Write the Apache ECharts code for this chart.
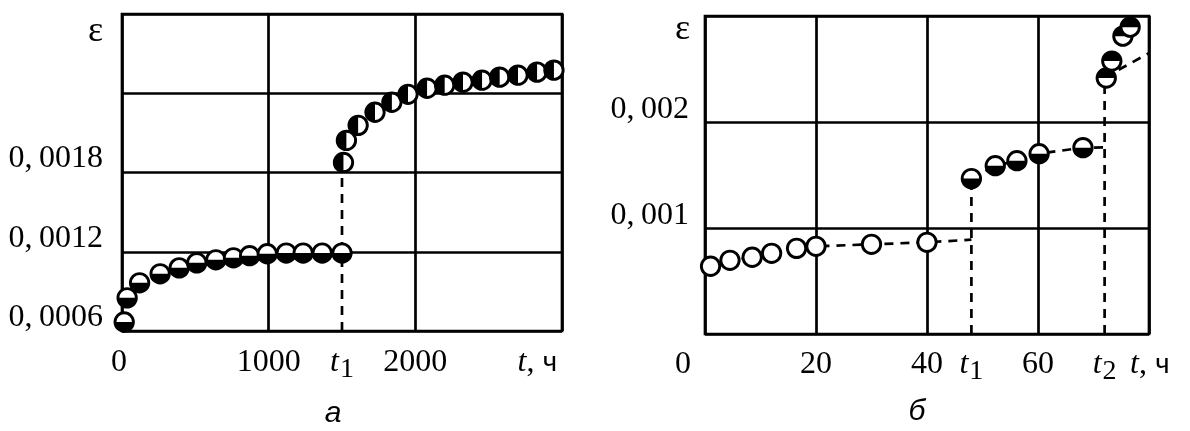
<!DOCTYPE html>
<html>
<head>
<meta charset="utf-8">
<script src="https://cdn.jsdelivr.net/npm/echarts@6/dist/echarts.min.js"></script>
<style>
  html, body { margin: 0; padding: 0; background: #fff; }
  #chart { width: 1190px; height: 431px; }
</style>
</head>
<body>
<div id="chart"></div>
<script>
// ---- Panel "а": long-term creep, t in hours ----
const leftT1 = 1500;
const leftLowT = [15, 35, 120, 260, 390, 510, 640, 760, 870, 990, 1120, 1235, 1365, 1500];
const leftLowE = [0.000668, 0.000851, 0.000965, 0.001033, 0.001078, 0.001116, 0.001139, 0.001154, 0.00117, 0.001185, 0.00119, 0.00119, 0.00119, 0.00119];
const leftHighT = [1510, 1530, 1610, 1725, 1840, 1950, 2080, 2200, 2325, 2455, 2575, 2700, 2830, 2945];
const leftHighE = [0.001876, 0.002043, 0.002157, 0.002256, 0.002332, 0.002392, 0.002438, 0.002461, 0.002484, 0.002499, 0.002522, 0.002537, 0.00256, 0.002575];
const leftXTicks = [0, 1000, leftT1, 2000];
const leftYTicks = [0.0006, 0.0012, 0.0018];
const leftYLabels = ['0,\u20090006', '0,\u20090012', '0,\u20090018'];

// ---- Panel "б": short-term creep with two load steps ----
const rightT1 = 48;
const rightT2 = 72;
const rightLowT = [1, 4.5, 8.5, 12, 16.5, 20, 30, 40];
const rightLowE = [0.000639, 0.000695, 0.000724, 0.000761, 0.000808, 0.000827, 0.000846, 0.000865];
const rightLowTail = 0.00089;
const rightMidT = [48, 52.3, 56.2, 60.2, 68.1];
const rightMidE = [0.001466, 0.001588, 0.001635, 0.001701, 0.001758];
const rightMidTail = 0.00176;
const rightHighT = [72.3, 73.3, 75.3, 76.6];
const rightHighE = [0.002415, 0.002575, 0.00281, 0.002895];
const rightHighTrend = [[72, 0.00242], [80, 0.00265]];
const rightXTicks = [0, 20, 40, rightT1, 60, rightT2];
const rightYTicks = [0.001, 0.002];
const rightYLabels = ['0,\u2009001', '0,\u2009002'];

const SERIF = "'Liberation Serif', 'Times New Roman', serif";
const SANS = "'Liberation Sans', Arial, sans-serif";
const FS = 32;
const LW = 2.7;

function pairs(xs, ys) { return xs.map((x, i) => [x, ys[i]]); }

// half-filled circle marker: white disc, black half, black ring
function halfCircle(startAngle, endAngle, filled) {
  return function (params, api) {
    const p = api.coord([api.value(0), api.value(1)]);
    const r = 9.2;
    const children = [
      { type: 'circle', shape: { cx: p[0], cy: p[1], r: r }, style: { fill: '#fff' } }
    ];
    if (filled) {
      children.push({ type: 'sector', shape: { cx: p[0], cy: p[1], r0: 0, r: r, startAngle: startAngle, endAngle: endAngle, clockwise: true }, style: { fill: '#000' } });
    }
    children.push({ type: 'circle', shape: { cx: p[0], cy: p[1], r: r }, style: { fill: 'none', stroke: '#000', lineWidth: 2.9 } });
    return { type: 'group', children: children };
  };
}

function markers(xi, data, start, end, filled) {
  return {
    type: 'custom', xAxisIndex: xi, yAxisIndex: xi, z: 5, clip: false,
    data: data, encode: { x: 0, y: 1 },
    renderItem: halfCircle(start, end, filled)
  };
}

function dashed(xi, data) {
  return {
    type: 'line', xAxisIndex: xi, yAxisIndex: xi, z: 3, data: data,
    symbol: 'none', silent: true, animation: false,
    lineStyle: { color: '#000', width: LW, type: [9, 7] }
  };
}

const tRich = {
  i: { fontFamily: SERIF, fontStyle: 'italic', fontSize: FS, color: '#000' },
  s: { fontFamily: SERIF, fontSize: 28, color: '#000', padding: [14, 0, 0, 1] },
  n: { fontFamily: SERIF, fontSize: FS, color: '#000' },
  c: { fontFamily: SANS, fontSize: 28, color: '#000' },
  o: { fontFamily: SERIF, fontSize: FS, color: '#000', padding: [0, 6, 0, 0] },
  o2: { fontFamily: SERIF, fontSize: FS, color: '#000', padding: [0, 44, 0, 0] }
};

function xLabel(t1, t2, zeroStyle) {
  return function (v) {
    if (v === t1) return '{i|t}{s|1}';
    if (t2 !== null && v === t2) return '{i|t}{s|2}';
    if (v === 0) return '{' + zeroStyle + '|0}';
    return '{n|' + v + '}';
  };
}

function yLabel(ticks, labels) {
  return function (v) {
    for (let i = 0; i < ticks.length; i++) {
      if (Math.abs(v - ticks[i]) < 1e-9) return labels[i];
    }
    return '';
  };
}

const splitLine = { show: true, lineStyle: { color: '#000', width: LW } };
const epsStyle = { fontFamily: SERIF, fontSize: 36, color: '#000', align: 'right', verticalAlign: 'middle' };

const option = {
  backgroundColor: '#fff',
  animation: false,
  grid: [
    { left: 122, top: 14, width: 440, height: 317, show: true, borderColor: '#000', borderWidth: LW, backgroundColor: 'transparent' },
    { left: 705, top: 16, width: 444, height: 318, show: true, borderColor: '#000', borderWidth: LW, backgroundColor: 'transparent' }
  ],
  xAxis: [
    {
      gridIndex: 0, type: 'value', min: 0, max: 3000, interval: 1000,
      axisLine: { show: false }, axisTick: { show: false }, splitLine: splitLine,
      axisLabel: { customValues: leftXTicks, formatter: xLabel(leftT1, null, 'o'), rich: tRich, margin: 32, verticalAlign: 'middle' },
      name: '{i|t}{n|, }{c|ч}', nameLocation: 'end', nameGap: -5,
      nameTextStyle: { rich: tRich, align: 'right', verticalAlign: 'middle', padding: [64, 0, 0, 0] }
    },
    {
      gridIndex: 1, type: 'value', min: 0, max: 80, interval: 20,
      axisLine: { show: false }, axisTick: { show: false }, splitLine: splitLine,
      axisLabel: { customValues: rightXTicks, formatter: xLabel(rightT1, rightT2, 'o2'), rich: tRich, margin: 31, verticalAlign: 'middle' },
      name: '{i|t}{n|, }{c|ч}', nameLocation: 'end', nameGap: -19,
      nameTextStyle: { rich: tRich, align: 'left', verticalAlign: 'middle', padding: [62, 0, 0, 0] }
    }
  ],
  yAxis: [
    {
      gridIndex: 0, type: 'value', min: 0.0006, max: 0.003, interval: 0.0006,
      axisLine: { show: false }, axisTick: { show: false }, splitLine: splitLine,
      axisLabel: { customValues: leftYTicks, formatter: yLabel(leftYTicks, leftYLabels), fontFamily: SERIF, fontSize: FS, color: '#000', margin: 19, verticalAlign: 'bottom', lineHeight: 27 },
      name: 'ε', nameLocation: 'end', nameGap: -18,
      nameTextStyle: Object.assign({ padding: [0, 19, 0, 0] }, epsStyle)
    },
    {
      gridIndex: 1, type: 'value', min: 0, max: 0.003, interval: 0.001,
      axisLine: { show: false }, axisTick: { show: false }, splitLine: splitLine,
      axisLabel: { customValues: rightYTicks, formatter: yLabel(rightYTicks, rightYLabels), fontFamily: SERIF, fontSize: FS, color: '#000', margin: 16, verticalAlign: 'bottom', lineHeight: 25 },
      name: 'ε', nameLocation: 'end', nameGap: -14,
      nameTextStyle: Object.assign({ padding: [0, 15, 0, 0] }, epsStyle)
    }
  ],
  graphic: [
    { type: 'text', x: 333, y: 414, style: { text: 'а', font: 'italic 30px ' + SANS, fill: '#000', align: 'center', verticalAlign: 'middle' } },
    { type: 'text', x: 917, y: 412, style: { text: 'б', font: 'italic 30px ' + SANS, fill: '#000', align: 'center', verticalAlign: 'middle' } }
  ],
  series: [
    // panel а
    dashed(0, [[leftT1, 0.0006], [leftT1, leftHighE[0]]]),
    markers(0, pairs(leftLowT, leftLowE), 0, Math.PI, true),
    markers(0, pairs(leftHighT, leftHighE), Math.PI / 2, Math.PI * 1.5, true),
    // panel б
    dashed(1, pairs(rightLowT, rightLowE).concat([[rightT1, rightLowTail]])),
    dashed(1, [[rightT1, 0], [rightT1, rightMidE[0]]]),
    dashed(1, pairs(rightMidT, rightMidE).concat([[rightT2, rightMidTail]])),
    dashed(1, [[rightT2, 0], [rightT2, rightHighE[0]]]),
    dashed(1, rightHighTrend),
    markers(1, pairs(rightLowT, rightLowE), 0, 0, false),
    markers(1, pairs(rightMidT, rightMidE), 0, Math.PI, true),
    markers(1, pairs(rightHighT, rightHighE), Math.PI, Math.PI * 2, true)
  ]
};

const chart = echarts.init(document.getElementById('chart'), null, { renderer: 'canvas' });
chart.setOption(option);
</script>
</body>
</html>
